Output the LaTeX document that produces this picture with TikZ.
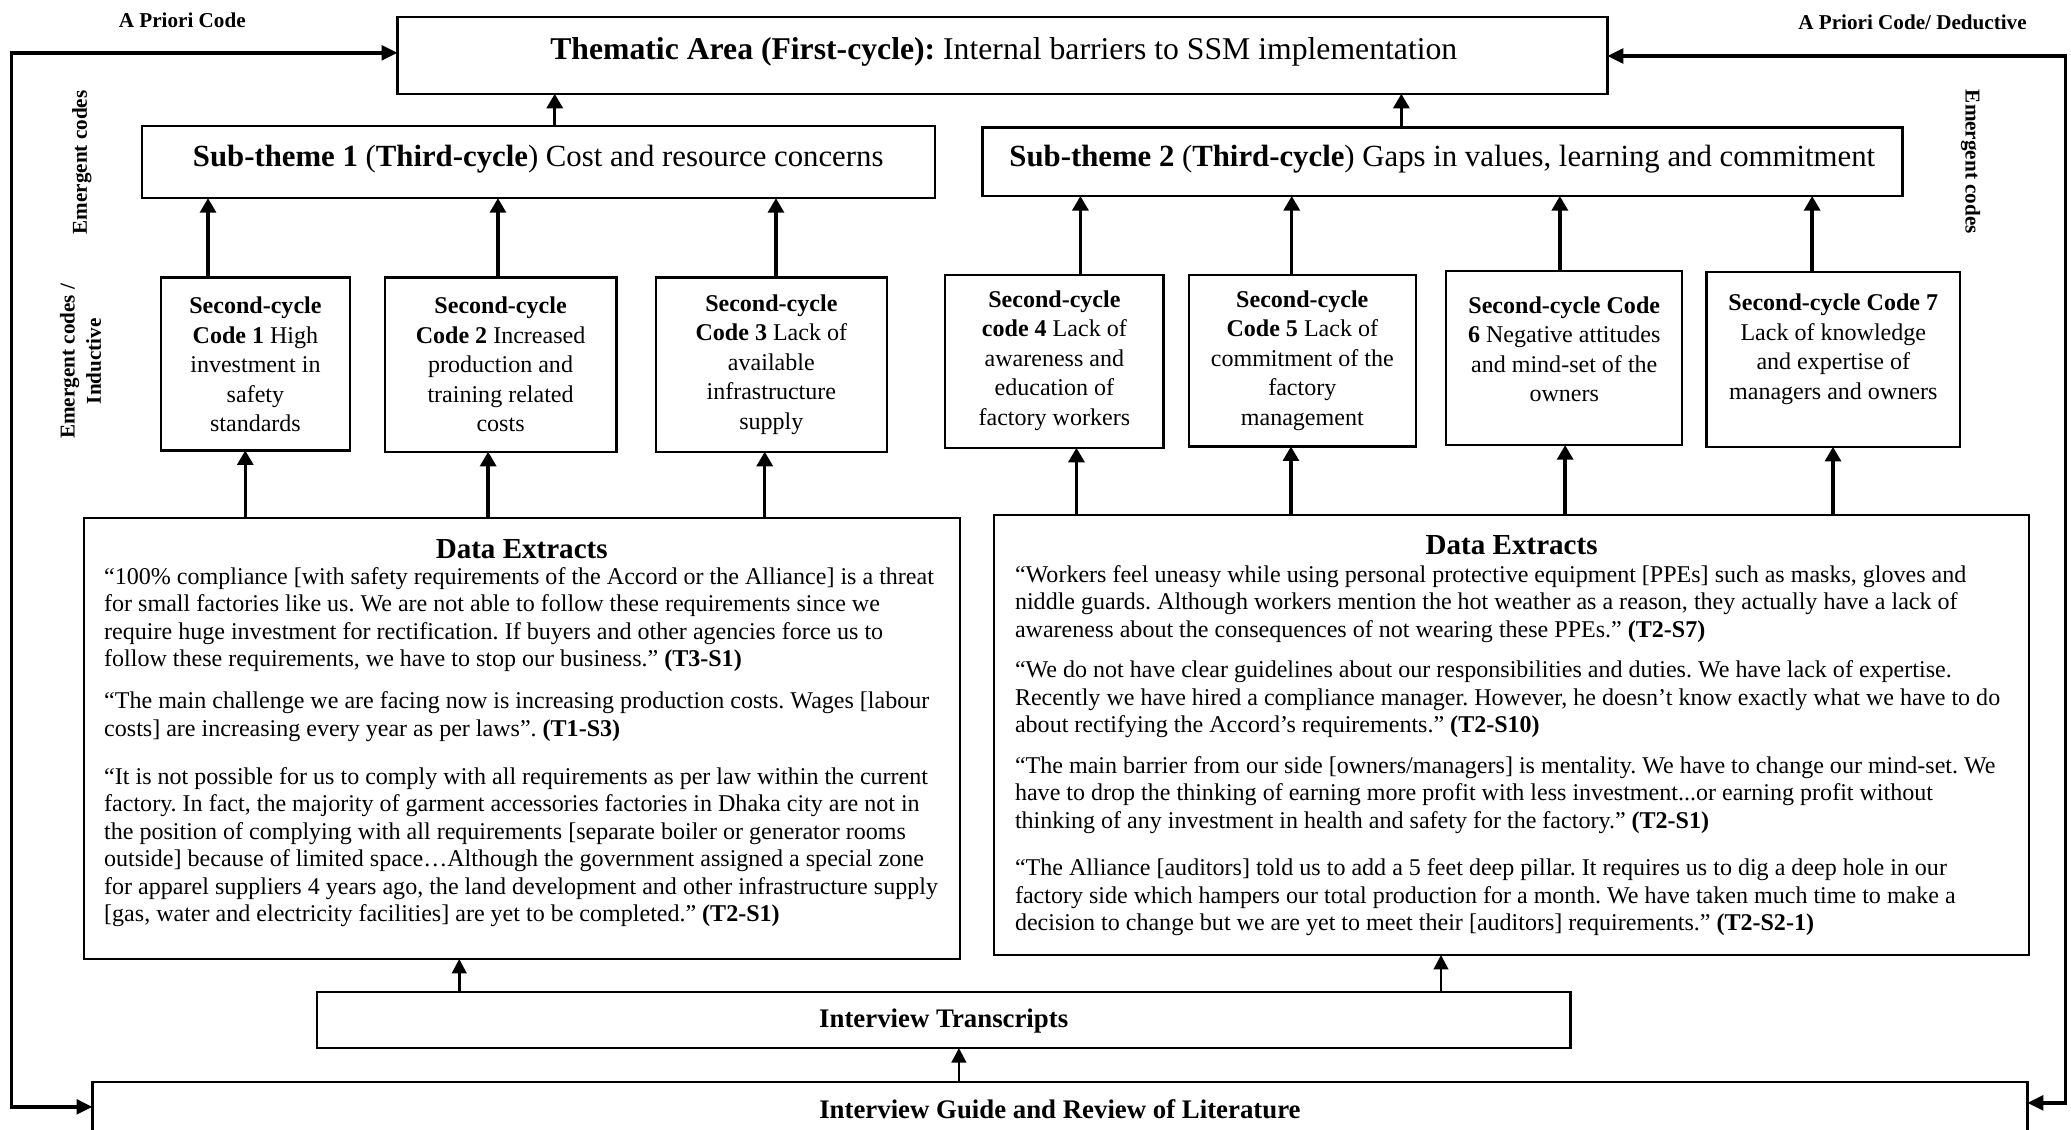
\documentclass[tikz,border=0pt]{standalone}
\usepackage{fontspec}
\setmainfont{Liberation Serif}
\usetikzlibrary{arrows.meta,calc}
\frenchspacing

% rectangular frame given by its corners (x1,y1) and (x2,y2)
\newcommand{\panel}[5]{%
  \node[box,minimum width={#4-#2},minimum height={#5-#3}] (#1) at ({(#2+#4)/2},{(#3+#5)/2}) {};}

\begin{document}
\begin{tikzpicture}[x=1pt,y=-1pt,
  box/.style={draw,line width=1.8pt,inner sep=0pt,outer sep=0pt},
  arr/.style={line width=2.6pt,-{Triangle[length=11pt,width=12pt]}},
  smallarr/.style={line width=2.0pt,-{Triangle[length=11pt,width=11pt]}},
  loop/.style={line width=2.6pt,line join=miter,
    {Triangle[length=12pt,width=11pt]}-{Triangle[length=12pt,width=11pt]}},
  headtxt/.style={inner sep=0pt,font=\fontsize{23.3}{28}\selectfont},
  codetxt/.style={inner sep=0pt,align=center,font=\fontsize{18.2}{22.4}\selectfont},
  quotetxt/.style={inner sep=0pt,align=left,anchor=north west,font=\fontsize{18.2}{20.8}\selectfont},
  datatitle/.style={inner sep=0pt,font=\fontsize{22}{26}\selectfont\bfseries},
  srctxt/.style={inner sep=0pt,font=\fontsize{20.3}{24}\selectfont\bfseries},
  side/.style={inner sep=0pt,align=center,font=\fontsize{16}{20}\selectfont\bfseries}]

\useasboundingbox (0,0) rectangle (1568,855);

% ---- frames ----
\panel{thm}{301}{13}{1217}{71}
\panel{st1}{107.5}{95.4}{707.7}{150}
\panel{st2}{744}{96.4}{1440.5}{148.4}
\panel{c1}{121.7}{210}{265}{341}
\panel{c2}{291.3}{210}{466.8}{342}
\panel{c3}{496.8}{210}{671.4}{342}
\panel{c4}{715.6}{208}{881}{339}
\panel{c5}{900}{208}{1072}{338}
\panel{c6}{1095}{205}{1273.5}{337}
\panel{c7}{1292}{205.7}{1484}{338.3}
\panel{dxl}{63.8}{392}{727}{726}
\panel{dxr}{752.6}{390}{1536}{723}
\panel{tr}{240}{751}{1189}{793.5}
\panel{gd}{70}{819}{1535}{880}

% ---- headings ----
\node[headtxt,font=\fontsize{24}{29}\selectfont] (thmt) at (760,39.5) {\textbf{Thematic Area (First-cycle):} Internal barriers to SSM implementation};
\node[headtxt] (st1t) at (407.5,120.5) {\textbf{Sub-theme 1} (\textbf{Third-cycle}) Cost and resource concerns};
\node[headtxt] (st2t) at (1092,120.5) {\textbf{Sub-theme 2} (\textbf{Third-cycle}) Gaps in values, learning and commitment};

% ---- second-cycle codes ----
\node[codetxt] (c1t) at (193.4,276) {\textbf{Second-cycle}\\\textbf{Code 1} High\\investment in\\safety\\standards};
\node[codetxt] (c2t) at (379,276) {\textbf{Second-cycle}\\\textbf{Code 2} Increased\\production and\\training related\\costs};
\node[codetxt] (c3t) at (584,276) {\textbf{Second-cycle}\\\textbf{Code 3} Lack of\\available\\infrastructure\\supply};
\node[codetxt] (c4t) at (798.3,273) {\textbf{Second-cycle}\\\textbf{code 4} Lack of\\awareness and\\education of\\factory workers};
\node[codetxt] (c5t) at (986,273) {\textbf{Second-cycle}\\\textbf{Code 5} Lack of\\commitment of the\\factory\\management};
\node[codetxt] (c6t) at (1184.3,264.5) {\textbf{Second-cycle Code}\\\textbf{6} Negative attitudes\\and mind-set of the\\owners};
\node[codetxt] (c7t) at (1388,264.5) {\textbf{Second-cycle Code 7}\\Lack of knowledge\\and expertise of\\managers and owners};

% ---- data extracts ----
\node[datatitle] (dxlh) at (395,416) {Data Extracts};
\node[datatitle] (dxrh) at (1144.5,412.5) {Data Extracts};

\node[quotetxt] (dxlq) at (78.7,429.5) {%
“100\% compliance [with safety requirements of the Accord or the Alliance] is a threat\\
for small factories like us. We are not able to follow these requirements since we\\
require huge investment for rectification. If buyers and other agencies force us to\\
follow these requirements, we have to stop our business.” \textbf{(T3-S1)}\\[11pt]
“The main challenge we are facing now is increasing production costs. Wages [labour\\
costs] are increasing every year as per laws”. \textbf{(T1-S3)}\\[15.6pt]
“It is not possible for us to comply with all requirements as per law within the current\\
factory. In fact, the majority of garment accessories factories in Dhaka city are not in\\
the position of complying with all requirements [separate boiler or generator rooms\\
outside] because of limited space…Although the government assigned a special zone\\
for apparel suppliers 4 years ago, the land development and other infrastructure supply\\
{[}gas, water and electricity facilities] are yet to be completed.” \textbf{(T2-S1)}};

\node[quotetxt] (dxrq) at (768.3,428) {%
“Workers feel uneasy while using personal protective equipment [PPEs] such as masks, gloves and\\
niddle guards. Although workers mention the hot weather as a reason, they actually have a lack of\\
awareness about the consequences of not wearing these PPEs.” \textbf{(T2-S7)}\\[9.6pt]
“We do not have clear guidelines about our responsibilities and duties. We have lack of expertise.\\
Recently we have hired a compliance manager. However, he doesn’t know exactly what we have to do\\
about rectifying the Accord’s requirements.” \textbf{(T2-S10)}\\[10pt]
“The main barrier from our side [owners/managers] is mentality. We have to change our mind-set. We\\
have to drop the thinking of earning more profit with less investment...or earning profit without\\
thinking of any investment in health and safety for the factory.” \textbf{(T2-S1)}\\[15.4pt]
“The Alliance [auditors] told us to add a 5 feet deep pillar. It requires us to dig a deep hole in our\\
factory side which hampers our total production for a month. We have taken much time to make a\\
decision to change but we are yet to meet their [auditors] requirements.” \textbf{(T2-S2-1)}};

% ---- sources ----
\node[srctxt] (trt) at (714.5,773) {Interview Transcripts};
\node[srctxt] (gdt) at (802.5,840) {Interview Guide and Review of Literature};

% ---- side labels ----
\node[side] (apl) at (138,15.5) {A Priori Code};
\node[side] (apr) at (1448,16.5) {A Priori Code/ Deductive};
\node[side,rotate=90] (eml) at (62,123) {Emergent codes};
\node[side,rotate=90] (emi) at (61,273.5) {Emergent codes /\\Inductive};
\node[side,rotate=-90] (emr) at (1492,122.5) {Emergent codes};

% ---- upward connectors ----
\draw[arr] (st1.north -| 420,0) -- (thm.south -| 420,0);
\draw[arr] (st2.north -| 1061,0) -- (thm.south -| 1061,0);

\draw[arr] (c1.north -| 157.5,0) -- (st1.south -| 157.5,0);
\draw[arr] (c2.north -| 377,0) -- (st1.south -| 377,0);
\draw[arr] (c3.north -| 587.5,0) -- (st1.south -| 587.5,0);
\draw[arr] (c4.north -| 818,0) -- (st2.south -| 818,0);
\draw[arr] (c5.north -| 978,0) -- (st2.south -| 978,0);
\draw[arr] (c6.north -| 1181,0) -- (st2.south -| 1181,0);
\draw[arr] (c7.north -| 1372,0) -- (st2.south -| 1372,0);

\draw[arr] (dxl.north -| 185.7,0) -- (c1.south -| 185.7,0);
\draw[arr] (dxl.north -| 369.6,0) -- (c2.south -| 369.6,0);
\draw[arr] (dxl.north -| 579,0) -- (c3.south -| 579,0);
\draw[arr] (dxr.north -| 815,0) -- (c4.south -| 815,0);
\draw[arr] (dxr.north -| 977.4,0) -- (c5.south -| 977.4,0);
\draw[arr] (dxr.north -| 1185,0) -- (c6.south -| 1185,0);
\draw[arr] (dxr.north -| 1387.8,0) -- (c7.south -| 1387.8,0);

\draw[smallarr] (tr.north -| 347.7,0) -- (dxl.south -| 347.7,0);
\draw[smallarr] (tr.north -| 1091,0) -- (dxr.south -| 1091,0);
\draw[smallarr] (gd.north -| 726,0) -- (tr.south -| 726,0);

% ---- feedback loops on both sides ----
\coordinate (ltop) at (8.7,40);
\coordinate (lbot) at (8.7,838);
\coordinate (rtop) at (1564,42.4);
\coordinate (rbot) at (1564,835);
\draw[loop] (ltop -| thm.west) -- (ltop) -- (lbot) -- (lbot -| gd.west);
\draw[loop] (rtop -| thm.east) -- (rtop) -- (rbot) -- (rbot -| gd.east);

\end{tikzpicture}
\end{document}
